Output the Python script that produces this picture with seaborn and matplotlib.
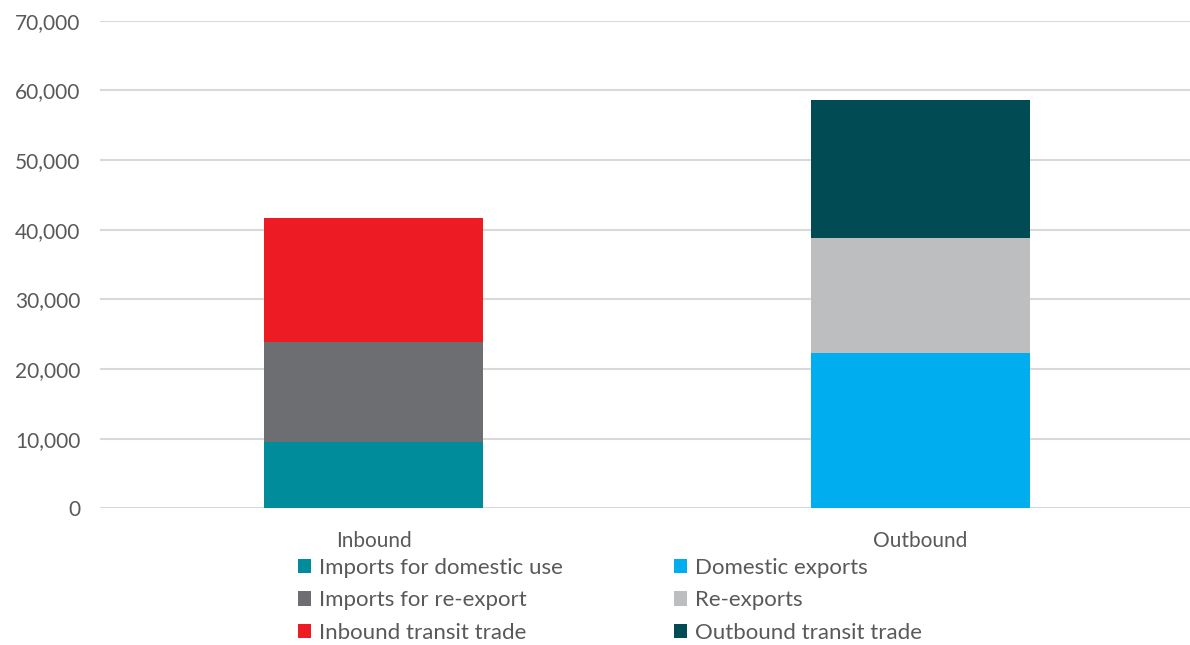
import matplotlib
matplotlib.use("Agg")
import matplotlib.pyplot as plt
from matplotlib.patches import Patch
from matplotlib.ticker import FuncFormatter
import pandas as pd
import seaborn as sns

# Trade flows, stacked bottom to top
flows = ["Inbound", "Outbound"]
inbound_series = ["Imports for domestic use", "Imports for re-export", "Inbound transit trade"]
inbound_values = [9560, 14360, 17760]
outbound_series = ["Domestic exports", "Re-exports", "Outbound transit trade"]
outbound_values = [22300, 16500, 19810]
y_ticks = [0, 10000, 20000, 30000, 40000, 50000, 60000, 70000]

colors = {
    "Imports for domestic use": "#008C9A",
    "Imports for re-export": "#6D6E71",
    "Inbound transit trade": "#ED1C24",
    "Domestic exports": "#00AEEF",
    "Re-exports": "#BCBEC0",
    "Outbound transit trade": "#004B54",
}

rows = []
for flow, names, vals in [("Inbound", inbound_series, inbound_values),
                          ("Outbound", outbound_series, outbound_values)]:
    top = 0
    for level, (name, v) in enumerate(zip(names, vals)):
        top += v
        rows.append({"flow": flow, "series": name, "level": level, "value": v, "top": top})
df = pd.DataFrame(rows)

sns.set_theme(style="white")
plt.rcParams["font.family"] = ["Lato", "DejaVu Sans"]

fig = plt.figure(figsize=(11.9, 6.45), dpi=100)
ax = fig.add_axes([100 / 1190, (645 - 508.3) / 645, 1094 / 1190, (508.3 - 20.7) / 645])

# Draw cumulative tops from the highest layer down so lower layers cover them
for level in [2, 1, 0]:
    sub = df[df["level"] == level]
    sns.barplot(data=sub, x="flow", y="top", hue="series", order=flows,
                palette=colors, dodge=False, width=0.4, saturation=1,
                linewidth=0, ax=ax, legend=False, zorder=3)

ax.set_xlim(-0.5, 1.5)
ax.set_ylim(0, 70000)
ax.set_yticks(y_ticks)
ax.yaxis.set_major_formatter(FuncFormatter(lambda v, p: f"{int(v):,}"))
ax.grid(axis="y", color="#D9D9D9", linewidth=1.5, zorder=0)
ax.set_axisbelow(True)
for s in ax.spines.values():
    s.set_visible(False)
ax.set_xlabel("")
ax.set_ylabel("")
ax.tick_params(axis="both", length=0, labelsize=15, colors="#595959")
ax.tick_params(axis="y", pad=14)
ax.tick_params(axis="x", pad=16)

handles = [Patch(facecolor=colors[n], edgecolor="none") for n in inbound_series + outbound_series]
labels = inbound_series + outbound_series
fig.legend(handles, labels, ncol=2, loc="upper left",
           bbox_to_anchor=(289 / 1190, 1 - 549 / 645), frameon=False,
           fontsize=16, labelcolor="#595959", handlelength=0.6, handleheight=0.6,
           handletextpad=0.35, columnspacing=5.0, labelspacing=0.56, borderaxespad=0)

fig.savefig("out.png", dpi=100)
